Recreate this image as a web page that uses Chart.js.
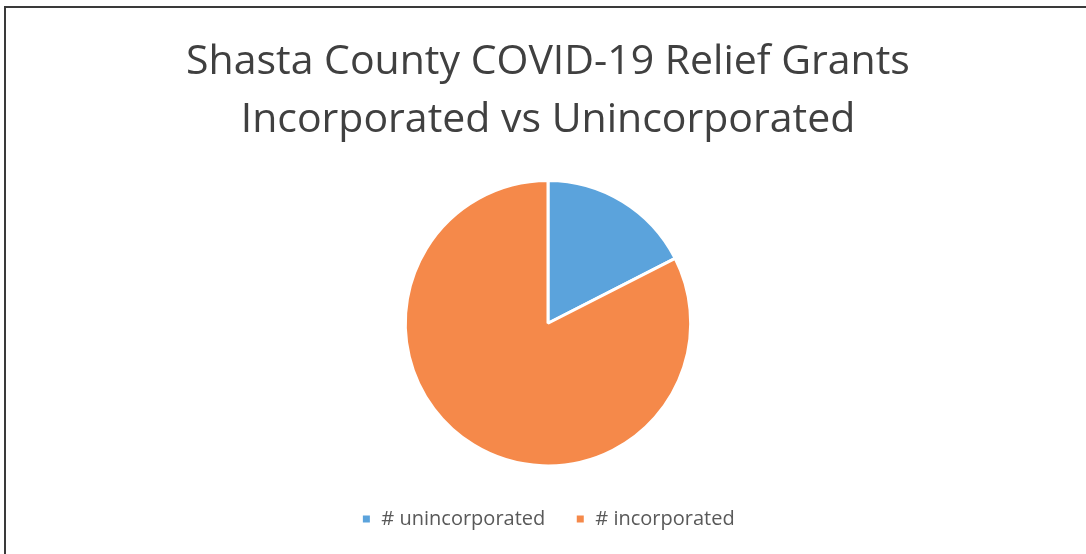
<!DOCTYPE html>
<html>
<head>
<meta charset="utf-8">
<script src="https://cdn.jsdelivr.net/npm/chart.js@4.4.0/dist/chart.umd.min.js"></script>
<style>
  html, body { margin: 0; padding: 0; background: #fff; }
  #frame {
    position: absolute; left: 4px; top: 6px; right: 0; bottom: 0;
    border-left: 2px solid #3a3a3a; border-top: 2px solid #3a3a3a;
  }
</style>
</head>
<body>
<div id="frame"><canvas id="grantsChart"></canvas></div>
<script>
// Shasta County COVID-19 relief grants, split by area
const titleLines = ['Shasta County COVID-19 Relief Grants', 'Incorporated vs Unincorporated'];
const categories = ['# unincorporated', '# incorporated'];
const grantCounts = [35, 165];
const sliceColors = ['#5ba3dc', '#f5894a'];

const grantsChart = new Chart(document.getElementById('grantsChart'), {
    type: 'pie',
    data: {
        labels: categories,
        datasets: [{
            data: grantCounts,
            backgroundColor: sliceColors,
            borderColor: '#ffffff',
            borderWidth: 3
        }]
    },
    options: {
        responsive: true,
        maintainAspectRatio: false,
        animation: false,
        layout: {
            padding: { left: 4, bottom: 15 }
        },
        plugins: {
            title: {
                display: true,
                text: titleLines,
                color: '#404040',
                font: { family: 'Open Sans', size: 41, weight: 'normal', lineHeight: 1.415 },
                padding: { top: 25, bottom: 30 }
            },
            legend: {
                position: 'bottom',
                // empty legend title just adds a gap above the items
                title: { display: true, text: '', font: { size: 8 }, padding: 1 },
                labels: {
                    color: '#595959',
                    font: { family: 'Open Sans', size: 20 },
                    boxWidth: 10,
                    boxHeight: 10,
                    padding: 30
                }
            },
            tooltip: { enabled: false }
        }
    }
});
</script>
</body>
</html>
